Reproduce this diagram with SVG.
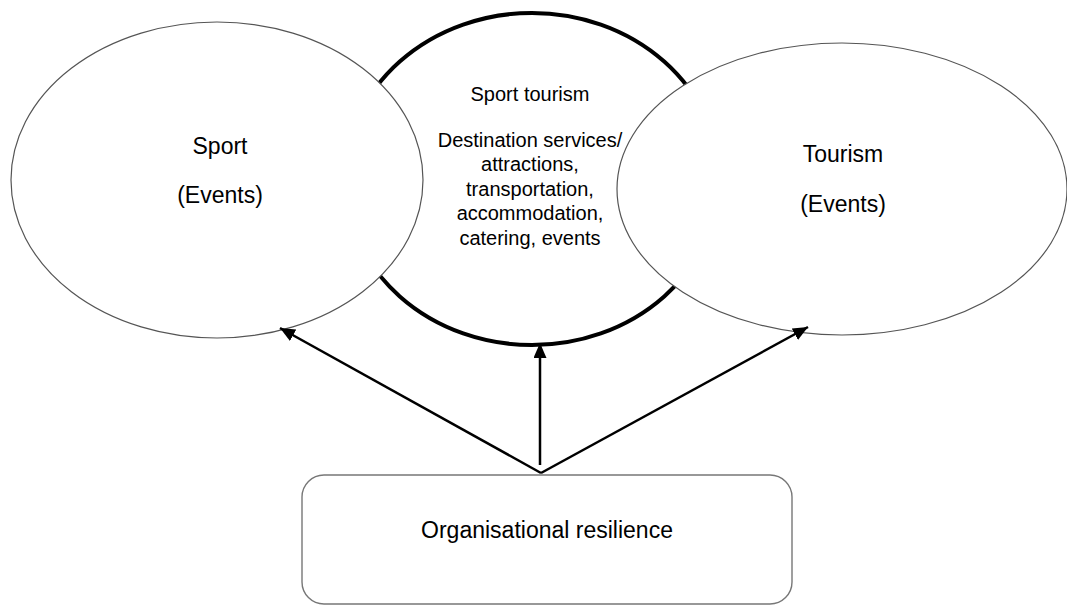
<svg xmlns="http://www.w3.org/2000/svg" width="1067" height="606" viewBox="0 0 1067 606">
  <style>
    .lbl { font-family: "Liberation Sans", Arial, sans-serif; fill: #000; text-anchor: middle; }
    .side { font-size: 23px; }
    .mid { font-size: 20px; }
    .thin { fill: #fff; stroke: #555; stroke-width: 1.2; }
    .thick { fill: #fff; stroke: #000; stroke-width: 4; }
    .box { fill: #fff; stroke: #777; stroke-width: 1.4; }
    .conn { stroke: #000; stroke-width: 2.5; fill: none; marker-end: url(#head); }
  </style>
  <defs>
    <marker id="head" markerUnits="userSpaceOnUse" markerWidth="16" markerHeight="13" refX="15" refY="6.5" orient="auto">
      <path d="M0,0 L15,6.5 L0,13 z" fill="#000"/>
    </marker>
  </defs>
  <rect width="1067" height="606" fill="#fff"/>

  <!-- central overlap area: sport tourism -->
  <g id="sport-tourism">
    <ellipse class="thick" cx="532" cy="179" rx="187" ry="166"/>
  </g>

  <!-- sport -->
  <g id="sport">
    <ellipse class="thin" cx="217" cy="180" rx="206" ry="158"/>
    <text class="lbl side" x="220" y="154">Sport</text>
    <text class="lbl side" x="220" y="203">(Events)</text>
  </g>

  <!-- tourism -->
  <g id="tourism">
    <ellipse class="thin" cx="842" cy="189" rx="225" ry="146"/>
    <text class="lbl side" x="843" y="162">Tourism</text>
    <text class="lbl side" x="843" y="212">(Events)</text>
  </g>

  <!-- labels of the central area, drawn above the side ellipses -->
  <g id="sport-tourism-labels">
    <text class="lbl mid" x="530" y="101">Sport tourism</text>
    <text class="lbl mid" x="530" y="147">Destination services/</text>
    <text class="lbl mid" x="530" y="171">attractions,</text>
    <text class="lbl mid" x="530" y="195.5">transportation,</text>
    <text class="lbl mid" x="530" y="220">accommodation,</text>
    <text class="lbl mid" x="530" y="244.5">catering, events</text>
  </g>

  <!-- organisational resilience -->
  <g id="resilience">
    <rect class="box" x="302" y="475" width="490" height="129" rx="22" ry="22"/>
    <text class="lbl side" x="547" y="538">Organisational resilience</text>
  </g>

  <!-- connectors -->
  <g id="connectors">
    <line class="conn" x1="541" y1="473" x2="280" y2="328"/>
    <line class="conn" x1="540" y1="465" x2="540" y2="343"/>
    <line class="conn" x1="541" y1="473" x2="808" y2="327"/>
  </g>
</svg>
